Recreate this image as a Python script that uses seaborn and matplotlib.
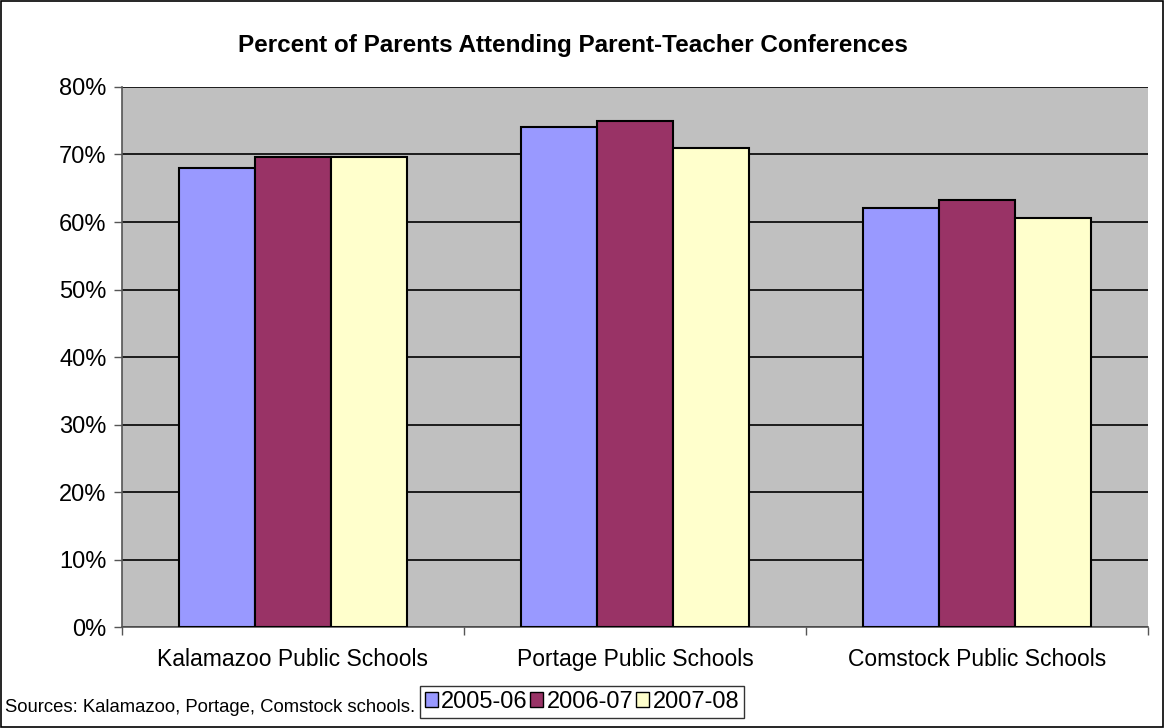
import matplotlib
matplotlib.use("Agg")
import matplotlib.pyplot as plt
import matplotlib.patches as mpatches
import seaborn as sns
import pandas as pd
from matplotlib.ticker import PercentFormatter, FixedLocator

# data
schools = ["Kalamazoo Public Schools", "Portage Public Schools", "Comstock Public Schools"]
years = ["2005-06", "2006-07", "2007-08"]
pct_2005 = [68.0, 74.0, 62.1]
pct_2006 = [69.6, 75.0, 63.2]
pct_2007 = [69.6, 70.9, 60.6]
colors = ["#9999FF", "#993366", "#FFFFCC"]

df = pd.DataFrame({
    "School": schools * 3,
    "Year": [years[0]] * 3 + [years[1]] * 3 + [years[2]] * 3,
    "Percent": pct_2005 + pct_2006 + pct_2007,
})

sns.set_theme(style="white", rc={"text.color": "black", "xtick.color": "black",
                                 "ytick.color": "black", "axes.labelcolor": "black"})
plt.rcParams["font.family"] = ["Liberation Sans", "DejaVu Sans"]

fig = plt.figure(figsize=(11.64, 7.28), dpi=100)
ax = fig.add_axes([0.1048, 0.1387, 0.8815, 0.7418])
ax.set_facecolor("#C0C0C0")

sns.barplot(data=df, x="School", y="Percent", hue="Year", palette=colors,
            width=0.667, gap=0, edgecolor="black", linewidth=1.5,
            saturation=1, legend=False, ax=ax, zorder=3)

ax.set_ylim(0, 80)
ax.set_xlim(-0.5, 2.5)
ax.yaxis.set_major_locator(FixedLocator(range(0, 81, 10)))
ax.yaxis.set_major_formatter(PercentFormatter(decimals=0))
ax.grid(axis="y", color="black", linewidth=1.2, zorder=1)
ax.set_axisbelow(True)

# category ticks sit between groups
ax.xaxis.set_minor_locator(FixedLocator([-0.5, 0.5, 1.5, 2.5]))
ax.tick_params(axis="x", which="major", length=0, pad=15, labelsize=16.5)
ax.tick_params(axis="x", which="minor", length=6, width=1, color="#555555", bottom=True)
ax.tick_params(axis="y", length=6, width=1, color="#555555", left=True, labelsize=17, pad=5)
ax.set_xlabel("")
ax.set_ylabel("")

for side in ["top", "right"]:
    ax.spines[side].set_visible(False)
for side in ["left", "bottom"]:
    ax.spines[side].set_color("#555555")
    ax.spines[side].set_linewidth(1.2)

fig.text(0.492, 0.938, "Percent of Parents Attending Parent-Teacher Conferences",
         ha="center", va="center", fontsize=17.5, fontweight="bold", color="black")
fig.text(0.004, 0.0165, "Sources: Kalamazoo, Portage, Comstock schools.",
         ha="left", va="bottom", fontsize=13.3, color="black")

handles = [mpatches.Patch(facecolor=c, edgecolor="black", linewidth=1, label=y)
           for c, y in zip(colors, years)]
leg = fig.legend(handles=handles, loc="center", bbox_to_anchor=(0.5, 0.036), ncol=3,
                 fontsize=17, frameon=True, fancybox=False, handlelength=0.55,
                 handleheight=0.55, handletextpad=0.15, columnspacing=0.1,
                 borderpad=0.2, borderaxespad=0)
leg.get_frame().set_edgecolor("black")
leg.get_frame().set_linewidth(1)

# outer chart border
fig.patches.append(mpatches.Rectangle((0.001, 0.001), 0.998, 0.998, transform=fig.transFigure,
                                      fill=False, edgecolor="black", linewidth=1.2))

fig.savefig("out.png", dpi=100)
